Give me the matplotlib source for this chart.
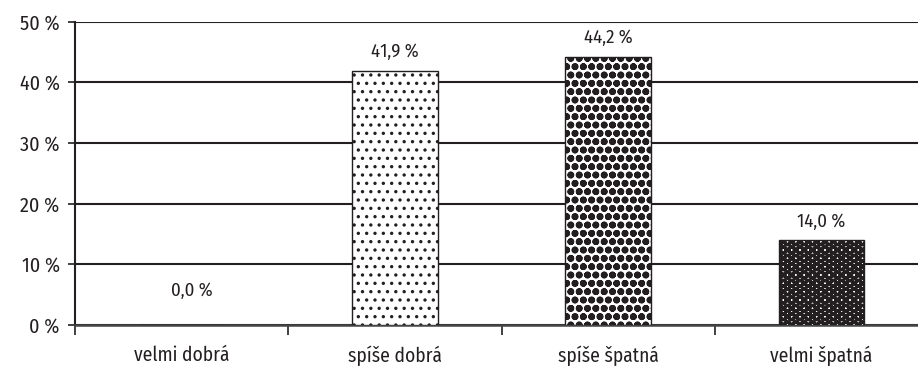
import matplotlib
matplotlib.use('Agg')
import matplotlib.pyplot as plt

categories = ['velmi dobrá', 'spíše dobrá', 'spíše špatná', 'velmi špatná']
values = [0.0, 41.9, 44.2, 14.0]
yticks = [0, 10, 20, 30, 40, 50]

plt.rcParams['font.family'] = ['Fira Sans Condensed', 'Asap Condensed', 'DejaVu Sans']
ink = '#231f20'

fig = plt.figure(figsize=(9.18, 3.71), dpi=100)
ax = fig.add_axes([75 / 918, 46 / 371, 853 / 918, 303.3 / 371])

# dot patterns get denser/darker from left to right
hatches = ['', '..', 'oo', 'oo']
hatch_lw = [1.0, 1.2, 2.5, 4.2]
x = range(len(categories))
bars = ax.bar(x, values, width=0.40, color='white', edgecolor=ink, linewidth=1.0, zorder=3)
for b, h, lw in zip(bars, hatches, hatch_lw):
    b.set_hatch(h)
    b.set_hatch_linewidth(lw)

for i, v in enumerate(values):
    off = (7, 18) if v == 0 else (0, 7)
    ax.annotate(f'{v:.1f} %'.replace('.', ','), (i, v), xytext=off, textcoords='offset points',
                ha='center', va='bottom', fontsize=13.5, color=ink)

ax.set_xlim(-0.5, 3.5)
ax.set_ylim(0, 50)
ax.set_yticks(yticks)
ax.set_yticklabels([f'{t} %' for t in yticks], fontsize=14.5, color=ink)
ax.set_xticks(list(x))
ax.set_xticklabels(categories, fontsize=14, color=ink)
ax.set_xticks([-0.5, 0.5, 1.5, 2.5], minor=True)
ax.tick_params(axis='x', which='major', length=0, pad=15)
ax.tick_params(axis='x', which='minor', length=7, width=1.2, color=ink)
ax.tick_params(axis='y', length=5, width=1.2, pad=6, color=ink)

ax.yaxis.grid(True, color=ink, linewidth=1.5)
ax.set_axisbelow(True)
for s in ['top', 'right']:
    ax.spines[s].set_visible(False)
ax.spines['left'].set_linewidth(1.5)
ax.spines['left'].set_color(ink)
ax.spines['bottom'].set_linewidth(1.8)
ax.spines['bottom'].set_color('#444444')

fig.savefig('out.png', dpi=100)
